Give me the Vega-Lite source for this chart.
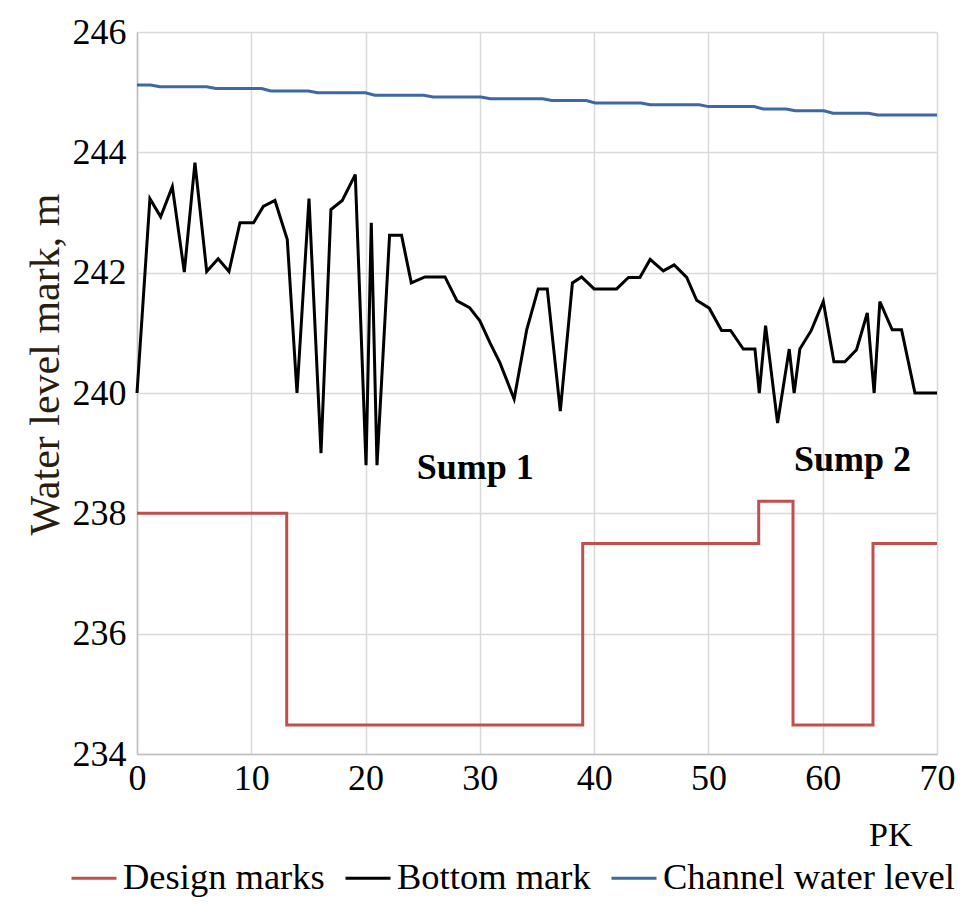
{
  "$schema": "https://vega.github.io/schema/vega-lite/v6.json",
  "width": 800,
  "height": 722,
  "autosize": "none",
  "padding": {"left": 137, "top": 32, "right": 28, "bottom": 167},
  "background": "white",
  "config": {
    "font": "Liberation Serif",
    "view": {"stroke": null},
    "axis": {
      "labelFont": "Liberation Serif",
      "labelFontSize": 36,
      "labelColor": "#000000",
      "titleFont": "Liberation Serif",
      "titleFontWeight": "normal",
      "gridColor": "#d9d9d9",
      "gridWidth": 1.5,
      "domainColor": "#bfbfbf",
      "domainWidth": 1.5,
      "ticks": false
    },
    "legend": {
      "labelFont": "Liberation Serif",
      "labelFontSize": 36.5,
      "labelColor": "#000000",
      "labelLimit": 0
    }
  },
  "datasets": {
    "lines": [
      {"series": "Design marks", "pk": 0, "level": 238.0},
      {"series": "Design marks", "pk": 13.1, "level": 238.0},
      {"series": "Design marks", "pk": 13.1, "level": 234.48},
      {"series": "Design marks", "pk": 39.0, "level": 234.48},
      {"series": "Design marks", "pk": 39.0, "level": 237.5},
      {"series": "Design marks", "pk": 54.4, "level": 237.5},
      {"series": "Design marks", "pk": 54.4, "level": 238.2},
      {"series": "Design marks", "pk": 57.4, "level": 238.2},
      {"series": "Design marks", "pk": 57.4, "level": 234.48},
      {"series": "Design marks", "pk": 64.4, "level": 234.48},
      {"series": "Design marks", "pk": 64.4, "level": 237.5},
      {"series": "Design marks", "pk": 70, "level": 237.5},

      {"series": "Bottom mark", "pk": 0, "level": 240.0},
      {"series": "Bottom mark", "pk": 1.13, "level": 243.23},
      {"series": "Bottom mark", "pk": 2.07, "level": 242.93},
      {"series": "Bottom mark", "pk": 3.09, "level": 243.43},
      {"series": "Bottom mark", "pk": 4.14, "level": 242.01},
      {"series": "Bottom mark", "pk": 5.07, "level": 243.83},
      {"series": "Bottom mark", "pk": 6.1, "level": 242.02},
      {"series": "Bottom mark", "pk": 7.1, "level": 242.23},
      {"series": "Bottom mark", "pk": 8.05, "level": 242.02},
      {"series": "Bottom mark", "pk": 9.01, "level": 242.83},
      {"series": "Bottom mark", "pk": 10.2, "level": 242.83},
      {"series": "Bottom mark", "pk": 11.05, "level": 243.1},
      {"series": "Bottom mark", "pk": 12.07, "level": 243.2},
      {"series": "Bottom mark", "pk": 13.15, "level": 242.55},
      {"series": "Bottom mark", "pk": 14.0, "level": 240.0},
      {"series": "Bottom mark", "pk": 15.05, "level": 243.23},
      {"series": "Bottom mark", "pk": 16.1, "level": 239.0},
      {"series": "Bottom mark", "pk": 16.97, "level": 243.05},
      {"series": "Bottom mark", "pk": 17.96, "level": 243.2},
      {"series": "Bottom mark", "pk": 19.1, "level": 243.63},
      {"series": "Bottom mark", "pk": 20.04, "level": 238.8},
      {"series": "Bottom mark", "pk": 20.5, "level": 242.83},
      {"series": "Bottom mark", "pk": 21.0, "level": 238.8},
      {"series": "Bottom mark", "pk": 22.1, "level": 242.62},
      {"series": "Bottom mark", "pk": 23.15, "level": 242.62},
      {"series": "Bottom mark", "pk": 24.0, "level": 241.83},
      {"series": "Bottom mark", "pk": 25.2, "level": 241.93},
      {"series": "Bottom mark", "pk": 26.95, "level": 241.93},
      {"series": "Bottom mark", "pk": 28.0, "level": 241.53},
      {"series": "Bottom mark", "pk": 29.1, "level": 241.42},
      {"series": "Bottom mark", "pk": 30.0, "level": 241.2},
      {"series": "Bottom mark", "pk": 30.9, "level": 240.83},
      {"series": "Bottom mark", "pk": 31.76, "level": 240.5},
      {"series": "Bottom mark", "pk": 33.0, "level": 239.9},
      {"series": "Bottom mark", "pk": 34.1, "level": 241.05},
      {"series": "Bottom mark", "pk": 35.1, "level": 241.73},
      {"series": "Bottom mark", "pk": 35.9, "level": 241.73},
      {"series": "Bottom mark", "pk": 37.04, "level": 239.7},
      {"series": "Bottom mark", "pk": 38.1, "level": 241.83},
      {"series": "Bottom mark", "pk": 38.9, "level": 241.93},
      {"series": "Bottom mark", "pk": 40.0, "level": 241.73},
      {"series": "Bottom mark", "pk": 41.97, "level": 241.73},
      {"series": "Bottom mark", "pk": 43.0, "level": 241.92},
      {"series": "Bottom mark", "pk": 44.0, "level": 241.92},
      {"series": "Bottom mark", "pk": 44.9, "level": 242.22},
      {"series": "Bottom mark", "pk": 46.05, "level": 242.03},
      {"series": "Bottom mark", "pk": 47.0, "level": 242.13},
      {"series": "Bottom mark", "pk": 48.1, "level": 241.92},
      {"series": "Bottom mark", "pk": 48.97, "level": 241.54},
      {"series": "Bottom mark", "pk": 50.07, "level": 241.41},
      {"series": "Bottom mark", "pk": 51.15, "level": 241.04},
      {"series": "Bottom mark", "pk": 51.94, "level": 241.04},
      {"series": "Bottom mark", "pk": 53.05, "level": 240.73},
      {"series": "Bottom mark", "pk": 54.07, "level": 240.73},
      {"series": "Bottom mark", "pk": 54.45, "level": 240.0},
      {"series": "Bottom mark", "pk": 55.0, "level": 241.12},
      {"series": "Bottom mark", "pk": 56.05, "level": 239.5},
      {"series": "Bottom mark", "pk": 57.07, "level": 240.73},
      {"series": "Bottom mark", "pk": 57.5, "level": 240.0},
      {"series": "Bottom mark", "pk": 58.0, "level": 240.73},
      {"series": "Bottom mark", "pk": 59.0, "level": 241.04},
      {"series": "Bottom mark", "pk": 60.05, "level": 241.52},
      {"series": "Bottom mark", "pk": 60.98, "level": 240.52},
      {"series": "Bottom mark", "pk": 61.94, "level": 240.52},
      {"series": "Bottom mark", "pk": 62.96, "level": 240.72},
      {"series": "Bottom mark", "pk": 63.9, "level": 241.33},
      {"series": "Bottom mark", "pk": 64.5, "level": 240.0},
      {"series": "Bottom mark", "pk": 65.0, "level": 241.52},
      {"series": "Bottom mark", "pk": 66.08, "level": 241.05},
      {"series": "Bottom mark", "pk": 66.9, "level": 241.05},
      {"series": "Bottom mark", "pk": 68.07, "level": 240.0},
      {"series": "Bottom mark", "pk": 70.0, "level": 240.0},

      {"series": "Channel water level", "pk": 0, "level": 245.12},
      {"series": "Channel water level", "pk": 1.2, "level": 245.12},
      {"series": "Channel water level", "pk": 2.0, "level": 245.09},
      {"series": "Channel water level", "pk": 6.1, "level": 245.09},
      {"series": "Channel water level", "pk": 6.9, "level": 245.06},
      {"series": "Channel water level", "pk": 10.9, "level": 245.06},
      {"series": "Channel water level", "pk": 11.7, "level": 245.02},
      {"series": "Channel water level", "pk": 15.0, "level": 245.02},
      {"series": "Channel water level", "pk": 15.8, "level": 244.99},
      {"series": "Channel water level", "pk": 20.0, "level": 244.99},
      {"series": "Channel water level", "pk": 20.8, "level": 244.95},
      {"series": "Channel water level", "pk": 25.1, "level": 244.95},
      {"series": "Channel water level", "pk": 25.9, "level": 244.92},
      {"series": "Channel water level", "pk": 30.1, "level": 244.92},
      {"series": "Channel water level", "pk": 30.9, "level": 244.89},
      {"series": "Channel water level", "pk": 35.5, "level": 244.89},
      {"series": "Channel water level", "pk": 36.3, "level": 244.86},
      {"series": "Channel water level", "pk": 39.3, "level": 244.86},
      {"series": "Channel water level", "pk": 40.1, "level": 244.82},
      {"series": "Channel water level", "pk": 44.1, "level": 244.82},
      {"series": "Channel water level", "pk": 44.9, "level": 244.79},
      {"series": "Channel water level", "pk": 49.2, "level": 244.79},
      {"series": "Channel water level", "pk": 50.0, "level": 244.76},
      {"series": "Channel water level", "pk": 54.0, "level": 244.76},
      {"series": "Channel water level", "pk": 54.8, "level": 244.72},
      {"series": "Channel water level", "pk": 56.8, "level": 244.72},
      {"series": "Channel water level", "pk": 57.6, "level": 244.69},
      {"series": "Channel water level", "pk": 60.1, "level": 244.69},
      {"series": "Channel water level", "pk": 60.9, "level": 244.65},
      {"series": "Channel water level", "pk": 64.0, "level": 244.65},
      {"series": "Channel water level", "pk": 64.8, "level": 244.62},
      {"series": "Channel water level", "pk": 70.0, "level": 244.62}
    ],
    "notes": [
      {"label": "Sump 1", "pk": 29.6, "level": 238.57},
      {"label": "Sump 2", "pk": 62.6, "level": 238.7}
    ]
  },
  "layer": [
    {
      "data": {"name": "lines"},
      "mark": {"type": "line", "strokeWidth": 3, "interpolate": "linear"},
      "encoding": {
        "x": {
          "field": "pk", "type": "quantitative",
          "scale": {"domain": [0, 70], "nice": false, "zero": false},
          "axis": {
            "values": [0, 10, 20, 30, 40, 50, 60, 70],
            "format": "d",
            "labelFont": "Liberation Serif",
            "title": "PK",
            "titleFont": "Liberation Serif",
            "titleFontSize": 34,
            "titleColor": "#000000",
            "titleAnchor": "end",
            "titleAlign": "right",
            "titleBaseline": "alphabetic",
            "titleX": 775,
            "titleY": 91,
            "labelPadding": 7,
            "labelFlush": false
          }
        },
        "y": {
          "field": "level", "type": "quantitative",
          "scale": {"domain": [234, 246], "nice": false, "zero": false},
          "axis": {
            "values": [234, 236, 238, 240, 242, 244, 246],
            "format": "d",
            "labelFont": "Liberation Serif",
            "title": "Water level mark, m",
            "titleFont": "Liberation Serif",
            "titleFontSize": 42,
            "titleColor": "#2b1d0e",
            "titleAngle": -90,
            "titleAlign": "center",
            "titleBaseline": "middle",
            "titleX": -92,
            "titleY": 332,
            "labelPadding": 11
          }
        },
        "color": {
          "field": "series", "type": "nominal",
          "scale": {
            "domain": ["Design marks", "Bottom mark", "Channel water level"],
            "range": ["#c0504d", "#000000", "#3f67a3"]
          },
          "legend": {
            "title": null,
            "orient": "none",
            "direction": "horizontal",
            "legendX": -67,
            "legendY": 822,
            "symbolType": "stroke",
            "symbolSize": 2025,
            "symbolStrokeWidth": 3,
            "labelOffset": 5,
            "labelLimit": 0,
            "columnPadding": 14
          }
        },
        "detail": {"field": "series"},
        "order": {"value": null}
      }
    },
    {
      "data": {"name": "notes"},
      "mark": {"type": "text", "font": "Liberation Serif", "fontWeight": "bold", "fontSize": 36, "align": "center", "baseline": "alphabetic", "color": "#000000"},
      "encoding": {
        "x": {"field": "pk", "type": "quantitative"},
        "y": {"field": "level", "type": "quantitative"},
        "text": {"field": "label"}
      }
    }
  ]
}
